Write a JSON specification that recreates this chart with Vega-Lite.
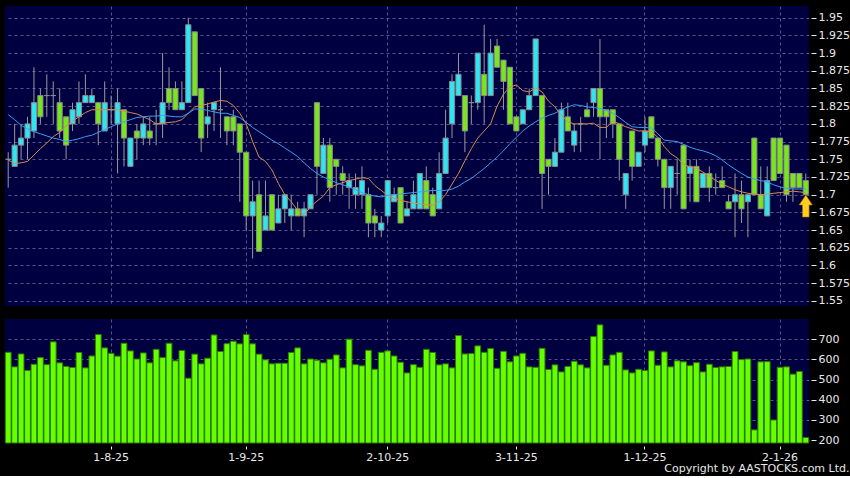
{
 "$schema": "https://vega.github.io/schema/vega-lite/v6.json",
 "background": "#000000",
 "padding": {"left": 4, "top": 6, "right": 0, "bottom": 2},
 "spacing": 13,
 "title": {"text": "Copyright by AASTOCKS.com Ltd.", "orient": "bottom", "anchor": "end", "fontSize": 11, "fontWeight": "normal", "color": "#e8e8e8", "font": "DejaVu Sans", "offset": 1},
 "config": {
  "view": {"fill": "#000040", "stroke": null},
  "axis": {"labelFont": "DejaVu Sans", "labelFontSize": 11, "labelColor": "#e8e8e8", "tickColor": "#e8e8e8", "domain": false, "gridColor": "#6b6b9b", "gridDash": [3, 3], "gridWidth": 1, "gridOpacity": 0.8, "title": null, "labelOverlap": false}
 },
 "datasets": {
  "p": [
{"d":"10-7-25","o":1.75,"h":1.76,"l":1.71,"c":1.75,"v":635,"m1":1.749,"m2":1.813},
{"d":"11-7-25","o":1.74,"h":1.80,"l":1.74,"c":1.77,"v":563,"m1":1.744,"m2":1.806},
{"d":"14-7-25","o":1.77,"h":1.80,"l":1.75,"c":1.78,"v":627,"m1":1.745,"m2":1.798},
{"d":"15-7-25","o":1.78,"h":1.81,"l":1.75,"c":1.80,"v":545,"m1":1.747,"m2":1.793},
{"d":"16-7-25","o":1.79,"h":1.88,"l":1.78,"c":1.83,"v":576,"m1":1.756,"m2":1.789},
{"d":"17-7-25","o":1.84,"h":1.85,"l":1.80,"c":1.81,"v":609,"m1":1.765,"m2":1.786},
{"d":"18-7-25","o":1.84,"h":1.87,"l":1.81,"c":1.84,"v":574,"m1":1.773,"m2":1.783},
{"d":"21-7-25","o":1.84,"h":1.86,"l":1.80,"c":1.84,"v":687,"m1":1.782,"m2":1.780},
{"d":"22-7-25","o":1.83,"h":1.85,"l":1.78,"c":1.79,"v":583,"m1":1.788,"m2":1.778},
{"d":"23-7-25","o":1.81,"h":1.81,"l":1.75,"c":1.77,"v":565,"m1":1.797,"m2":1.775},
{"d":"24-7-25","o":1.80,"h":1.83,"l":1.79,"c":1.82,"v":560,"m1":1.804,"m2":1.777},
{"d":"25-7-25","o":1.81,"h":1.86,"l":1.80,"c":1.83,"v":634,"m1":1.810,"m2":1.779},
{"d":"28-7-25","o":1.83,"h":1.87,"l":1.83,"c":1.84,"v":558,"m1":1.816,"m2":1.782},
{"d":"29-7-25","o":1.83,"h":1.85,"l":1.83,"c":1.84,"v":617,"m1":1.820,"m2":1.784},
{"d":"30-7-25","o":1.83,"h":1.83,"l":1.77,"c":1.80,"v":723,"m1":1.820,"m2":1.788},
{"d":"31-7-25","o":1.79,"h":1.86,"l":1.79,"c":1.83,"v":657,"m1":1.820,"m2":1.792},
{"d":"1-8-25","o":1.82,"h":1.84,"l":1.80,"c":1.82,"v":630,"m1":1.820,"m2":1.796},
{"d":"4-8-25","o":1.80,"h":1.85,"l":1.73,"c":1.83,"v":616,"m1":1.820,"m2":1.800},
{"d":"5-8-25","o":1.82,"h":1.82,"l":1.74,"c":1.78,"v":680,"m1":1.818,"m2":1.803},
{"d":"6-8-25","o":1.74,"h":1.78,"l":1.74,"c":1.78,"v":642,"m1":1.816,"m2":1.806},
{"d":"7-8-25","o":1.79,"h":1.80,"l":1.75,"c":1.78,"v":602,"m1":1.814,"m2":1.809},
{"d":"8-8-25","o":1.78,"h":1.81,"l":1.77,"c":1.80,"v":632,"m1":1.810,"m2":1.810},
{"d":"11-8-25","o":1.79,"h":1.81,"l":1.77,"c":1.78,"v":583,"m1":1.806,"m2":1.811},
{"d":"12-8-25","o":1.80,"h":1.82,"l":1.77,"c":1.80,"v":650,"m1":1.800,"m2":1.811},
{"d":"13-8-25","o":1.80,"h":1.90,"l":1.78,"c":1.83,"v":609,"m1":1.801,"m2":1.812},
{"d":"14-8-25","o":1.85,"h":1.88,"l":1.82,"c":1.83,"v":680,"m1":1.802,"m2":1.811},
{"d":"15-8-25","o":1.85,"h":1.86,"l":1.82,"c":1.82,"v":593,"m1":1.803,"m2":1.810},
{"d":"18-8-25","o":1.82,"h":1.86,"l":1.82,"c":1.83,"v":644,"m1":1.806,"m2":1.810},
{"d":"19-8-25","o":1.83,"h":1.95,"l":1.83,"c":1.94,"v":507,"m1":1.815,"m2":1.815},
{"d":"20-8-25","o":1.93,"h":1.93,"l":1.84,"c":1.84,"v":626,"m1":1.824,"m2":1.821},
{"d":"21-8-25","o":1.85,"h":1.85,"l":1.76,"c":1.78,"v":578,"m1":1.826,"m2":1.821},
{"d":"22-8-25","o":1.80,"h":1.83,"l":1.78,"c":1.81,"v":606,"m1":1.828,"m2":1.819},
{"d":"25-8-25","o":1.82,"h":1.83,"l":1.79,"c":1.83,"v":721,"m1":1.831,"m2":1.817},
{"d":"26-8-25","o":1.82,"h":1.88,"l":1.78,"c":1.82,"v":639,"m1":1.833,"m2":1.815},
{"d":"27-8-25","o":1.81,"h":1.81,"l":1.77,"c":1.79,"v":678,"m1":1.832,"m2":1.815},
{"d":"28-8-25","o":1.81,"h":1.82,"l":1.77,"c":1.79,"v":690,"m1":1.826,"m2":1.812},
{"d":"29-8-25","o":1.80,"h":1.80,"l":1.69,"c":1.76,"v":677,"m1":1.815,"m2":1.809},
{"d":"1-9-25","o":1.76,"h":1.76,"l":1.65,"c":1.67,"v":723,"m1":1.800,"m2":1.802},
{"d":"2-9-25","o":1.67,"h":1.72,"l":1.61,"c":1.69,"v":677,"m1":1.775,"m2":1.795},
{"d":"3-9-25","o":1.70,"h":1.72,"l":1.62,"c":1.62,"v":626,"m1":1.753,"m2":1.789},
{"d":"4-9-25","o":1.65,"h":1.72,"l":1.65,"c":1.67,"v":598,"m1":1.747,"m2":1.783},
{"d":"5-9-25","o":1.70,"h":1.70,"l":1.65,"c":1.65,"v":578,"m1":1.735,"m2":1.777},
{"d":"8-9-25","o":1.66,"h":1.70,"l":1.66,"c":1.68,"v":581,"m1":1.716,"m2":1.772},
{"d":"9-9-25","o":1.68,"h":1.70,"l":1.66,"c":1.70,"v":581,"m1":1.700,"m2":1.766},
{"d":"10-9-25","o":1.67,"h":1.70,"l":1.65,"c":1.68,"v":634,"m1":1.690,"m2":1.760},
{"d":"11-9-25","o":1.68,"h":1.69,"l":1.67,"c":1.67,"v":657,"m1":1.678,"m2":1.754},
{"d":"12-9-25","o":1.67,"h":1.69,"l":1.64,"c":1.68,"v":578,"m1":1.672,"m2":1.745},
{"d":"15-9-25","o":1.68,"h":1.70,"l":1.68,"c":1.70,"v":602,"m1":1.683,"m2":1.737},
{"d":"16-9-25","o":1.83,"h":1.83,"l":1.70,"c":1.74,"v":596,"m1":1.691,"m2":1.730},
{"d":"17-9-25","o":1.73,"h":1.78,"l":1.73,"c":1.77,"v":583,"m1":1.698,"m2":1.725},
{"d":"18-9-25","o":1.77,"h":1.78,"l":1.69,"c":1.71,"v":601,"m1":1.710,"m2":1.721},
{"d":"19-9-25","o":1.75,"h":1.75,"l":1.70,"c":1.74,"v":622,"m1":1.714,"m2":1.717},
{"d":"22-9-25","o":1.73,"h":1.74,"l":1.70,"c":1.72,"v":558,"m1":1.717,"m2":1.714},
{"d":"23-9-25","o":1.71,"h":1.73,"l":1.68,"c":1.72,"v":700,"m1":1.720,"m2":1.711},
{"d":"24-9-25","o":1.70,"h":1.73,"l":1.68,"c":1.71,"v":574,"m1":1.722,"m2":1.707},
{"d":"25-9-25","o":1.70,"h":1.74,"l":1.68,"c":1.72,"v":568,"m1":1.724,"m2":1.703},
{"d":"26-9-25","o":1.70,"h":1.71,"l":1.64,"c":1.66,"v":645,"m1":1.723,"m2":1.700},
{"d":"29-9-25","o":1.67,"h":1.68,"l":1.64,"c":1.66,"v":551,"m1":1.713,"m2":1.698},
{"d":"30-9-25","o":1.65,"h":1.67,"l":1.64,"c":1.66,"v":635,"m1":1.706,"m2":1.697},
{"d":"2-10-25","o":1.67,"h":1.72,"l":1.66,"c":1.72,"v":642,"m1":1.699,"m2":1.699},
{"d":"3-10-25","o":1.69,"h":1.71,"l":1.69,"c":1.70,"v":617,"m1":1.695,"m2":1.700},
{"d":"6-10-25","o":1.71,"h":1.71,"l":1.66,"c":1.66,"v":586,"m1":1.692,"m2":1.701},
{"d":"8-10-25","o":1.67,"h":1.69,"l":1.67,"c":1.68,"v":533,"m1":1.690,"m2":1.702},
{"d":"9-10-25","o":1.68,"h":1.72,"l":1.68,"c":1.70,"v":574,"m1":1.688,"m2":1.703},
{"d":"10-10-25","o":1.68,"h":1.73,"l":1.68,"c":1.73,"v":561,"m1":1.687,"m2":1.704},
{"d":"13-10-25","o":1.72,"h":1.74,"l":1.68,"c":1.68,"v":650,"m1":1.686,"m2":1.705},
{"d":"14-10-25","o":1.70,"h":1.71,"l":1.67,"c":1.67,"v":634,"m1":1.685,"m2":1.706},
{"d":"15-10-25","o":1.68,"h":1.76,"l":1.68,"c":1.73,"v":573,"m1":1.690,"m2":1.706},
{"d":"16-10-25","o":1.73,"h":1.82,"l":1.73,"c":1.78,"v":578,"m1":1.700,"m2":1.706},
{"d":"17-10-25","o":1.80,"h":1.87,"l":1.78,"c":1.86,"v":558,"m1":1.715,"m2":1.708},
{"d":"20-10-25","o":1.84,"h":1.90,"l":1.84,"c":1.87,"v":718,"m1":1.730,"m2":1.712},
{"d":"21-10-25","o":1.84,"h":1.84,"l":1.76,"c":1.79,"v":627,"m1":1.748,"m2":1.718},
{"d":"22-10-25","o":1.83,"h":1.84,"l":1.80,"c":1.83,"v":629,"m1":1.765,"m2":1.723},
{"d":"23-10-25","o":1.83,"h":1.90,"l":1.82,"c":1.90,"v":667,"m1":1.780,"m2":1.730},
{"d":"24-10-25","o":1.87,"h":1.94,"l":1.80,"c":1.84,"v":635,"m1":1.790,"m2":1.737},
{"d":"27-10-25","o":1.84,"h":1.92,"l":1.84,"c":1.90,"v":654,"m1":1.800,"m2":1.745},
{"d":"28-10-25","o":1.91,"h":1.92,"l":1.88,"c":1.88,"v":556,"m1":1.825,"m2":1.753},
{"d":"30-10-25","o":1.89,"h":1.89,"l":1.82,"c":1.86,"v":640,"m1":1.842,"m2":1.762},
{"d":"31-10-25","o":1.88,"h":1.88,"l":1.80,"c":1.80,"v":588,"m1":1.852,"m2":1.772},
{"d":"3-11-25","o":1.81,"h":1.81,"l":1.79,"c":1.79,"v":617,"m1":1.855,"m2":1.781},
{"d":"4-11-25","o":1.80,"h":1.82,"l":1.80,"c":1.82,"v":630,"m1":1.847,"m2":1.790},
{"d":"5-11-25","o":1.82,"h":1.85,"l":1.82,"c":1.84,"v":563,"m1":1.845,"m2":1.797},
{"d":"6-11-25","o":1.84,"h":1.92,"l":1.84,"c":1.92,"v":561,"m1":1.851,"m2":1.803},
{"d":"7-11-25","o":1.84,"h":1.84,"l":1.68,"c":1.73,"v":655,"m1":1.845,"m2":1.808},
{"d":"10-11-25","o":1.75,"h":1.75,"l":1.70,"c":1.74,"v":550,"m1":1.832,"m2":1.812},
{"d":"11-11-25","o":1.74,"h":1.78,"l":1.74,"c":1.76,"v":573,"m1":1.824,"m2":1.815},
{"d":"12-11-25","o":1.76,"h":1.83,"l":1.76,"c":1.82,"v":538,"m1":1.812,"m2":1.820},
{"d":"13-11-25","o":1.81,"h":1.83,"l":1.79,"c":1.79,"v":565,"m1":1.803,"m2":1.824},
{"d":"14-11-25","o":1.77,"h":1.80,"l":1.76,"c":1.79,"v":591,"m1":1.800,"m2":1.827},
{"d":"17-11-25","o":1.80,"h":1.81,"l":1.76,"c":1.80,"v":573,"m1":1.800,"m2":1.826},
{"d":"18-11-25","o":1.82,"h":1.83,"l":1.81,"c":1.81,"v":558,"m1":1.800,"m2":1.824},
{"d":"19-11-25","o":1.83,"h":1.85,"l":1.81,"c":1.85,"v":713,"m1":1.801,"m2":1.823},
{"d":"20-11-25","o":1.85,"h":1.92,"l":1.75,"c":1.81,"v":771,"m1":1.795,"m2":1.822},
{"d":"21-11-25","o":1.82,"h":1.82,"l":1.78,"c":1.81,"v":571,"m1":1.795,"m2":1.819},
{"d":"24-11-25","o":1.82,"h":1.82,"l":1.78,"c":1.80,"v":622,"m1":1.804,"m2":1.815},
{"d":"25-11-25","o":1.80,"h":1.80,"l":1.72,"c":1.75,"v":635,"m1":1.800,"m2":1.809},
{"d":"26-11-25","o":1.70,"h":1.73,"l":1.68,"c":1.73,"v":548,"m1":1.796,"m2":1.802},
{"d":"27-11-25","o":1.79,"h":1.79,"l":1.72,"c":1.74,"v":533,"m1":1.793,"m2":1.796},
{"d":"28-11-25","o":1.74,"h":1.76,"l":1.74,"c":1.76,"v":551,"m1":1.790,"m2":1.795},
{"d":"1-12-25","o":1.77,"h":1.81,"l":1.76,"c":1.79,"v":545,"m1":1.790,"m2":1.795},
{"d":"2-12-25","o":1.81,"h":1.81,"l":1.78,"c":1.78,"v":642,"m1":1.789,"m2":1.794},
{"d":"3-12-25","o":1.78,"h":1.78,"l":1.74,"c":1.75,"v":571,"m1":1.781,"m2":1.786},
{"d":"4-12-25","o":1.75,"h":1.75,"l":1.68,"c":1.71,"v":637,"m1":1.768,"m2":1.777},
{"d":"5-12-25","o":1.71,"h":1.74,"l":1.68,"c":1.74,"v":563,"m1":1.758,"m2":1.776},
{"d":"8-12-25","o":1.73,"h":1.75,"l":1.70,"c":1.73,"v":593,"m1":1.752,"m2":1.775},
{"d":"9-12-25","o":1.77,"h":1.77,"l":1.68,"c":1.68,"v":588,"m1":1.743,"m2":1.771},
{"d":"10-12-25","o":1.73,"h":1.75,"l":1.69,"c":1.74,"v":569,"m1":1.739,"m2":1.767},
{"d":"11-12-25","o":1.74,"h":1.75,"l":1.69,"c":1.69,"v":584,"m1":1.737,"m2":1.764},
{"d":"12-12-25","o":1.71,"h":1.73,"l":1.71,"c":1.73,"v":538,"m1":1.732,"m2":1.762},
{"d":"15-12-25","o":1.73,"h":1.74,"l":1.69,"c":1.71,"v":576,"m1":1.726,"m2":1.759},
{"d":"16-12-25","o":1.71,"h":1.73,"l":1.70,"c":1.71,"v":560,"m1":1.720,"m2":1.755},
{"d":"17-12-25","o":1.72,"h":1.74,"l":1.71,"c":1.71,"v":563,"m1":1.715,"m2":1.749},
{"d":"18-12-25","o":1.69,"h":1.70,"l":1.68,"c":1.68,"v":565,"m1":1.711,"m2":1.742},
{"d":"19-12-25","o":1.69,"h":1.73,"l":1.64,"c":1.70,"v":639,"m1":1.707,"m2":1.736},
{"d":"22-12-25","o":1.70,"h":1.72,"l":1.66,"c":1.68,"v":599,"m1":1.704,"m2":1.730},
{"d":"23-12-25","o":1.69,"h":1.70,"l":1.64,"c":1.70,"v":602,"m1":1.702,"m2":1.725},
{"d":"24-12-25","o":1.78,"h":1.78,"l":1.70,"c":1.70,"v":251,"m1":1.701,"m2":1.722},
{"d":"29-12-25","o":1.70,"h":1.74,"l":1.68,"c":1.68,"v":588,"m1":1.700,"m2":1.720},
{"d":"30-12-25","o":1.67,"h":1.74,"l":1.67,"c":1.72,"v":589,"m1":1.701,"m2":1.718},
{"d":"31-12-25","o":1.78,"h":1.78,"l":1.72,"c":1.72,"v":300,"m1":1.702,"m2":1.714},
{"d":"2-1-26","o":1.78,"h":1.78,"l":1.73,"c":1.73,"v":561,"m1":1.703,"m2":1.711},
{"d":"5-1-26","o":1.77,"h":1.77,"l":1.69,"c":1.70,"v":563,"m1":1.704,"m2":1.709},
{"d":"6-1-26","o":1.73,"h":1.73,"l":1.69,"c":1.71,"v":527,"m1":1.705,"m2":1.708},
{"d":"7-1-26","o":1.73,"h":1.73,"l":1.71,"c":1.71,"v":540,"m1":1.704,"m2":1.708},
{"d":"8-1-26","o":1.72,"h":1.73,"l":1.70,"c":1.70,"v":213,"m1":1.703,"m2":1.708,"arrow":1.684}
  ]
 },
 "vconcat": [
  {
   "width": 804,
   "height": 300,
   "data": {"name": "p"},
   "encoding": {
    "x": {"field": "d", "type": "ordinal", "sort": null,
     "scale": {"paddingInner": 0.2, "paddingOuter": 0.1},
     "axis": {"orient": "bottom", "values": ["1-8-25", "1-9-25", "2-10-25", "3-11-25", "1-12-25", "2-1-26"], "labels": false, "ticks": false, "grid": true}}
   },
   "layer": [
    {
     "mark": {"type": "rule", "color": "#9a9a9a", "strokeWidth": 1},
     "encoding": {
      "y": {"field": "l", "type": "quantitative",
       "scale": {"domain": [1.5428, 1.9665], "nice": false, "zero": false},
       "axis": {"orient": "right", "values": [1.55, 1.575, 1.6, 1.625, 1.65, 1.675, 1.7, 1.725, 1.75, 1.775, 1.8, 1.825, 1.85, 1.875, 1.9, 1.925, 1.95],
        "labelExpr": "format(datum.value, '.3~f')", "labelOverlap": false, "offset": 2, "tickSize": 5, "labelPadding": 2, "grid": true}},
      "y2": {"field": "h"}
     }
    },
    {
     "mark": {"type": "bar", "stroke": "#8a8a8a", "strokeWidth": 1},
     "encoding": {
      "y": {"field": "o", "type": "quantitative",
       "axis": {"orient": "right", "values": [1.55, 1.575, 1.6, 1.625, 1.65, 1.675, 1.7, 1.725, 1.75, 1.775, 1.8, 1.825, 1.85, 1.875, 1.9, 1.925, 1.95],
        "labelExpr": "format(datum.value, '.3~f')", "labelOverlap": false, "offset": 2, "tickSize": 5, "labelPadding": 2, "grid": true}},
      "y2": {"field": "c"},
      "color": {"condition": {"test": "datum.c > datum.o", "value": "#2ee6f2"}, "value": "#77e61a"}
     }
    },
    {
     "mark": {"type": "line", "color": "#d88a50", "strokeWidth": 1},
     "encoding": {"y": {"field": "m1", "type": "quantitative",
       "axis": {"orient": "right", "values": [1.55, 1.575, 1.6, 1.625, 1.65, 1.675, 1.7, 1.725, 1.75, 1.775, 1.8, 1.825, 1.85, 1.875, 1.9, 1.925, 1.95],
        "labelExpr": "format(datum.value, '.3~f')", "labelOverlap": false, "offset": 2, "tickSize": 5, "labelPadding": 2, "grid": true}}, "order": {"value": null}}
    },
    {
     "mark": {"type": "line", "color": "#3a9ff0", "strokeWidth": 1},
     "encoding": {"y": {"field": "m2", "type": "quantitative",
       "axis": {"orient": "right", "values": [1.55, 1.575, 1.6, 1.625, 1.65, 1.675, 1.7, 1.725, 1.75, 1.775, 1.8, 1.825, 1.85, 1.875, 1.9, 1.925, 1.95],
        "labelExpr": "format(datum.value, '.3~f')", "labelOverlap": false, "offset": 2, "tickSize": 5, "labelPadding": 2, "grid": true}}, "order": {"value": null}}
    },
    {
     "mark": {"type": "point", "shape": "M-0.3,1 L0.3,1 L0.3,-0.1 L0.6,-0.1 L0,-1 L-0.6,-0.1 L-0.3,-0.1 Z", "size": 484, "filled": true, "color": "#ffcc22", "stroke": "#b07000", "strokeWidth": 0.6, "opacity": 1},
     "encoding": {"y": {"field": "arrow", "type": "quantitative",
       "axis": {"orient": "right", "values": [1.55, 1.575, 1.6, 1.625, 1.65, 1.675, 1.7, 1.725, 1.75, 1.775, 1.8, 1.825, 1.85, 1.875, 1.9, 1.925, 1.95],
        "labelExpr": "format(datum.value, '.3~f')", "labelOverlap": false, "offset": 2, "tickSize": 5, "labelPadding": 2, "grid": true}}}
    }
   ]
  },
  {
   "width": 804,
   "height": 124,
   "data": {"name": "p"},
   "mark": {"type": "bar", "color": "#66ff00", "stroke": "#2d7a00", "strokeWidth": 1},
   "encoding": {
    "x": {"field": "d", "type": "ordinal", "sort": null,
     "scale": {"paddingInner": 0.1, "paddingOuter": 0.05},
     "axis": {"orient": "bottom", "values": ["1-8-25", "1-9-25", "2-10-25", "3-11-25", "1-12-25", "2-1-26"], "labelAngle": 0, "offset": 3, "tickSize": 3, "labelPadding": 2, "grid": true}},
    "y": {"field": "v", "type": "quantitative",
     "scale": {"domain": [186, 800], "nice": false, "zero": false},
     "axis": {"orient": "right", "values": [200, 300, 400, 500, 600, 700], "offset": 2, "tickSize": 5, "labelPadding": 2, "grid": true}},
    "y2": {"datum": 186}
   }
  }
 ]
}
